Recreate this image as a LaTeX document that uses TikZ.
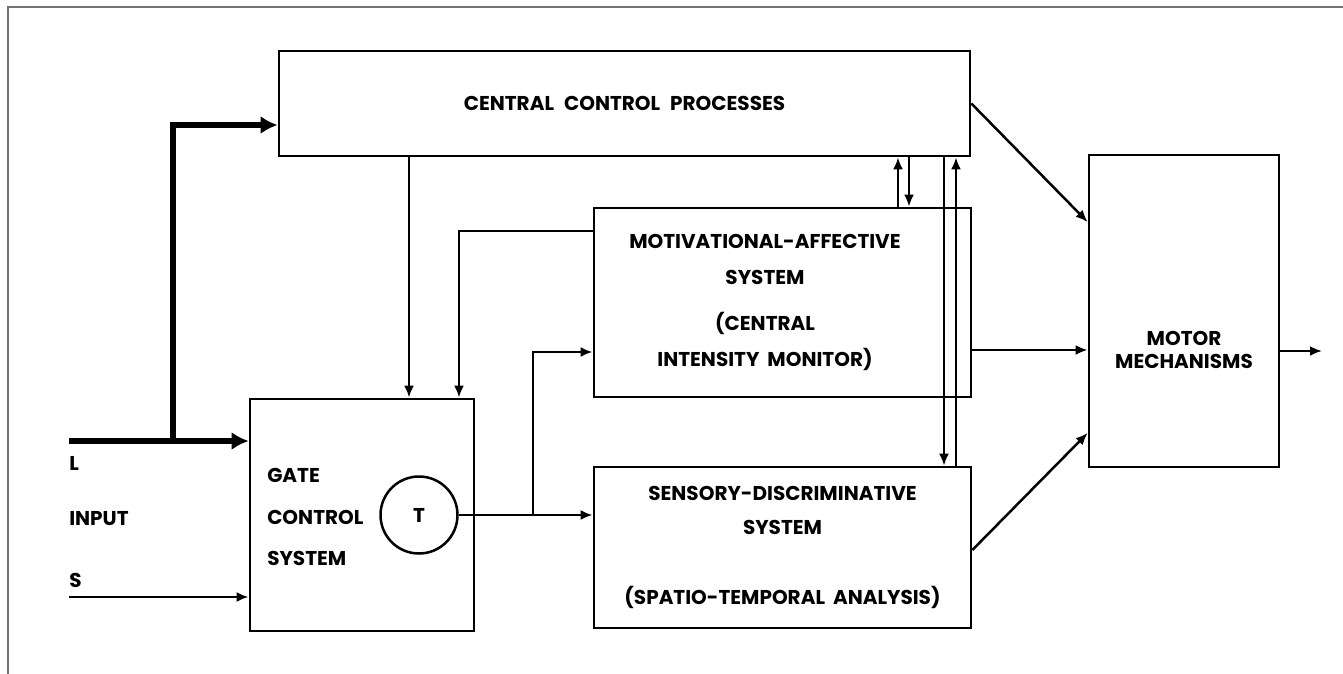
\documentclass[tikz,border=0pt]{standalone}
\usepackage{fontspec}
\setmainfont{Poppins}
\usepackage{tikz}
\usetikzlibrary{arrows.meta,positioning}

\begin{document}
\begin{tikzpicture}[
    x=0.5pt, y=-0.5pt,
    font=\fontsize{10}{18}\selectfont\bfseries,
    >={Latex[length=6pt,width=5pt]},
    line width=1.25pt,
    block/.style={draw, line width=1.35pt, align=center, inner sep=0pt},
    txt/.style={inner sep=0pt, align=center},
    heavy/.style={-{Latex[length=8.5pt,width=9pt]}, line width=2.8pt}
  ]
  \useasboundingbox (0,0) rectangle (1343,674);
  % marco
  \draw[black!55, line width=1pt] (8,674) -- (8,7) -- (1343,7);

  % Bloques
  \node[block, minimum width=345.5pt, minimum height=52.5pt] (ccp) at (624.5,103.5)
    {CENTRAL\hspace{5pt}CONTROL\hspace{5pt}PROCESSES};
  \node[block, minimum width=188.5pt, minimum height=94.5pt] (mas) at (782.5,302.5) {};
  \node[txt] (mastext) at (765,302.5) {
    MOTIVATIONAL-AFFECTIVE\\
    SYSTEM\\[5pt]
    (CENTRAL\\
    INTENSITY\hspace{4pt}MONITOR)
  };
  \node[block, minimum width=188.5pt, minimum height=80.5pt,
        font=\fontsize{10}{17}\selectfont\bfseries] (sds) at (782.5,547.5) {
    SENSORY-DISCRIMINATIVE\\
    SYSTEM\\[18pt]
    (SPATIO-TEMPORAL\hspace{4pt}ANALYSIS)
  };
  \node[block, minimum width=112pt, minimum height=116pt] (gcs) at (362,515) {};
  \node[txt, align=left, font=\fontsize{10}{20.75}\selectfont\bfseries] (gcstext) at (266,517) [anchor=west]
    {GATE\\CONTROL\\SYSTEM};
  \node[draw, circle, minimum size=38.5pt, inner sep=0pt] (T) at (419,515) {T};
  \node[block, minimum width=95pt, minimum height=156pt] (mm) at (1184,311) {};
  \node[txt, font=\fontsize{10}{11.5}\selectfont\bfseries] (mmtext) at (1184,350)
    {MOTOR\\MECHANISMS};

  % Entradas
  \node[txt, anchor=west] (Llab) at (68,463) {L};
  \node[txt, anchor=west] (inlab) at (68,519) {INPUT};
  \node[txt, anchor=west] (Slab) at (68,580) {S};
  \coordinate (Lin) at (69,441);
  \coordinate (Lbr) at (173,441);
  \coordinate (Sin) at (69,597);
  \draw[heavy] (Lin) -- (gcs.west |- Lin);
  \draw[heavy] (Lbr) |- (ccp.west |- 0,125);
  \draw[->] (Sin) -- (gcs.west |- Sin);

  % Descendentes hacia la compuerta
  \draw[->] (409,0 |- ccp.south) -- (409,0 |- gcs.north);
  \draw[->] (mas.west |- 0,231) -| (459,0 |- gcs.north);

  % Salida de T
  \coordinate (Tbr) at (533,515);
  \draw[->] (T.east) -- (sds.west |- T.east);
  \draw[->] (Tbr) |- (mas.west |- 0,352);

  % Flechas verticales con el control central
  \draw[->] (898,0 |- mas.north) -- (898,0 |- ccp.south);
  \draw[->] (909,0 |- ccp.south) -- (909,0 |- mas.north);
  \draw[->] (944,0 |- ccp.south) -- (944,0 |- sds.north);
  \draw[->] (956,0 |- sds.north) -- (956,0 |- ccp.south);

  % Hacia los mecanismos motores
  \coordinate (out) at (1322,351);
  \draw[->] (ccp.east) -- (mm.west |- 0,222);
  \draw[->] (mas.east |- 0,350) -- (mm.west |- 0,350);
  \draw[->] (sds.east |- 0,550) -- (mm.west |- 0,433);
  \draw[->] (mm.east |- out) -- (out);
\end{tikzpicture}
\end{document}
